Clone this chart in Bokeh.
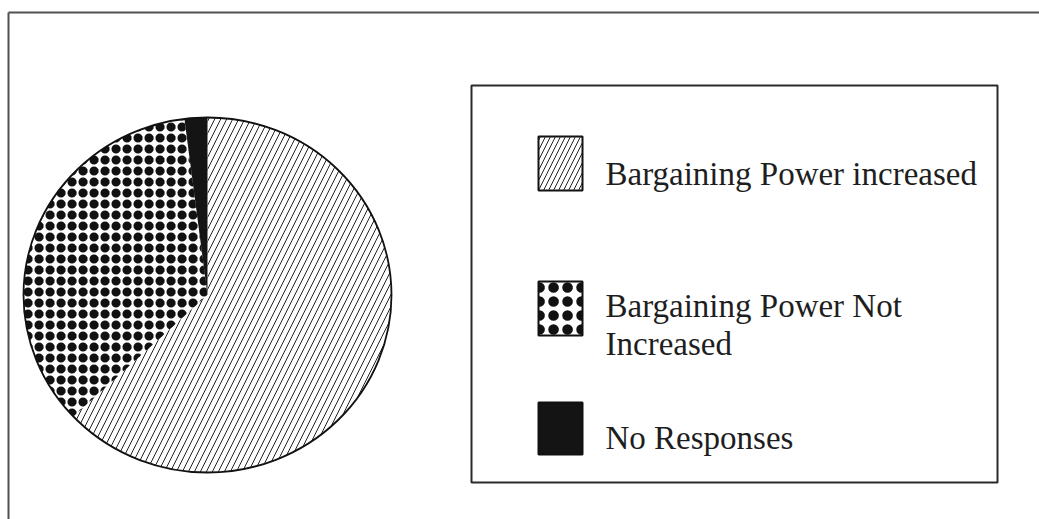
import numpy as np
from bokeh.plotting import figure
from bokeh.models import ColumnDataSource, Range1d
from bokeh.embed import file_html
from bokeh.resources import INLINE
from bokeh.core.properties import value

# ---- data ----
categories = ["Bargaining Power increased", "Bargaining Power Not\nIncreased", "No Responses"]
values = [63, 35, 2]
hatches = ["/", "o", " "]
fills = ["white", "white", "#141414"]

W, H = 1039, 519
def Y(py):
    return H - py

p = figure(width=W, height=H, x_range=Range1d(0, W), y_range=Range1d(0, H),
           min_border=0, toolbar_location=None, output_backend="svg")
p.axis.visible = False
p.grid.visible = False
p.outline_line_color = None
p.background_fill_color = "white"
p.border_fill_color = "white"

# outer frame (decoration)
p.segment(x0=[8, 8], y0=[Y(12), Y(12)], x1=[W, 8], y1=[Y(12), Y(519)],
          line_color="#505050", line_width=2)

# ---- pie (slightly elliptical, as in the scan) ----
cx, cy, rx, ry = 207, Y(294.5), 184, 177.5
frac = np.array(values, dtype=float) / sum(values)
cum = np.concatenate([[0], np.cumsum(frac)])
start = np.pi / 2 - cum[:-1] * 2 * np.pi
end = np.pi / 2 - cum[1:] * 2 * np.pi

xs, ys = [], []
for a0, a1 in zip(start, end):
    t = np.linspace(a0, a1, 200)
    xs.append(np.concatenate([[cx], cx + rx * np.cos(t)]))
    ys.append(np.concatenate([[cy], cy + ry * np.sin(t)]))
src = ColumnDataSource(dict(xs=xs, ys=ys, cat=categories, fill=fills))

p.patches(xs="xs", ys="ys", fill_color="fill", line_color=None, source=src)
hs = ColumnDataSource(dict(xs=xs[:1], ys=ys[:1]))
p.patches(xs="xs", ys="ys", fill_alpha=0, line_color=None, hatch_pattern="/",
          hatch_scale=12, hatch_weight=1, hatch_color="#222222", source=hs)
ds = ColumnDataSource(dict(xs=xs[1:2], ys=ys[1:2]))
p.patches(xs="xs", ys="ys", fill_alpha=0, line_color=None, hatch_pattern="o",
          hatch_scale=11, hatch_weight=3.6, hatch_color="#111111", source=ds)
p.patches(xs="xs", ys="ys", fill_alpha=0, line_color=None, hatch_pattern=".",
          hatch_scale=11, hatch_weight=3, hatch_color="#111111", source=ds)
p.ellipse(x=[cx], y=[cy], width=2 * rx, height=2 * ry, fill_color=None,
          line_color="#111111", line_width=1.8)

# ---- legend ----
box_l, box_t, box_r, box_b = 471, 85, 997, 482
p.quad(left=[box_l], right=[box_r], top=[Y(box_t)], bottom=[Y(box_b)],
       fill_color=None, line_color="#2a2a2a", line_width=2)

sw_l, sw_r = 538, 582
sw_top = [136, 281, 402]
sw_bot = [190, 335, 454]
base = [173, 305, 437]
line_gap = 38

for i, cat in enumerate(categories):
    p.quad(left=[sw_l], right=[sw_r], top=[Y(sw_top[i])], bottom=[Y(sw_bot[i])],
           fill_color=fills[i], line_color="#111111", line_width=2)
    if hatches[i] == "/":
        p.quad(left=[sw_l], right=[sw_r], top=[Y(sw_top[i])], bottom=[Y(sw_bot[i])],
               fill_alpha=0, line_color=None, hatch_pattern="/", hatch_scale=10,
               hatch_weight=1, hatch_color="#222222")
    elif hatches[i] == "o":
        p.quad(left=[sw_l], right=[sw_r], top=[Y(sw_top[i])], bottom=[Y(sw_bot[i])],
               fill_alpha=0, line_color=None, hatch_pattern="o", hatch_scale=14,
               hatch_weight=3.5, hatch_color="#111111")
        p.quad(left=[sw_l], right=[sw_r], top=[Y(sw_top[i])], bottom=[Y(sw_bot[i])],
               fill_alpha=0, line_color=None, hatch_pattern=".", hatch_scale=14,
               hatch_weight=3, hatch_color="#111111")
    lines = cat.split("\n")
    p.text(x=[605] * len(lines), y=[Y(base[i] + k * line_gap) for k in range(len(lines))],
           text=lines, text_font=value("Liberation Serif"), text_font_size="33px",
           text_color="#1e1e1e", text_baseline="alphabetic", text_align="left")

open("out.html", "w").write(file_html(p, INLINE))
